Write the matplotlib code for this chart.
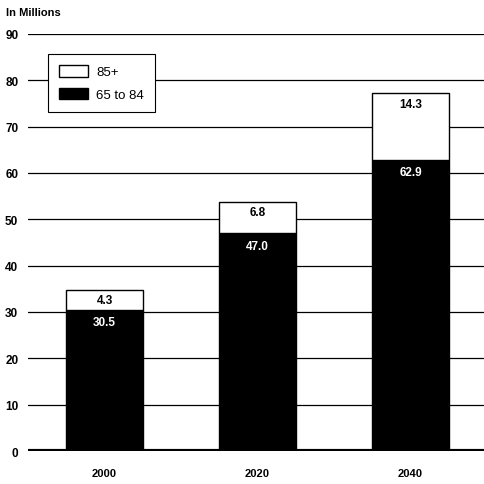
import matplotlib
matplotlib.use("Agg")
import matplotlib.pyplot as plt
from matplotlib.patches import Patch

years = ["2000", "2020", "2040"]
age_65_84 = [30.5, 47.0, 62.9]
age_85_plus = [4.3, 6.8, 14.3]
yticks = [0, 10, 20, 30, 40, 50, 60, 70, 80, 90]

plt.rcParams['font.family'] = ['Liberation Sans', 'DejaVu Sans']

fig = plt.figure(figsize=(4.84, 4.85), dpi=100)
ax = fig.add_axes([0.058, 0.068, 0.942, 0.86])

x = list(range(len(years)))
ax.bar(x, age_65_84, width=0.5, color='black', edgecolor='black', linewidth=1, zorder=3)
ax.bar(x, age_85_plus, width=0.5, bottom=age_65_84, color='white', edgecolor='black',
       linewidth=1, zorder=3)

for i in x:
    top = age_65_84[i] + age_85_plus[i]
    ax.text(i, top - 1.0, f"{age_85_plus[i]:.1f}", ha='center',
            va='top', fontsize=8.5, fontweight='bold', color='black', zorder=4)
    ax.text(i, age_65_84[i] - 1.4, f"{age_65_84[i]:.1f}", ha='center', va='top',
            fontsize=8.5, fontweight='bold', color='white', zorder=4)

ax.set_xlim(-0.5, 2.48)
ax.set_ylim(0, 90)
ax.set_yticks(yticks)
ax.set_xticks(x)
ax.set_xticklabels(years, fontsize=8, fontweight='bold')
ax.set_yticklabels([str(t) for t in yticks], fontsize=8.5, fontweight='bold')
ax.tick_params(axis='both', length=0)
ax.tick_params(axis='y', pad=7)
ax.tick_params(axis='x', pad=12)
ax.yaxis.grid(True, color='black', linewidth=0.9, zorder=0)
ax.axhline(0, color='black', linewidth=3, zorder=5)
for s in ax.spines.values():
    s.set_visible(False)

handles = [Patch(facecolor='white', edgecolor='black', label='85+'),
           Patch(facecolor='black', edgecolor='black', label='65 to 84')]
leg = ax.legend(handles=handles, loc='upper left', bbox_to_anchor=(0.044, 0.952),
                fancybox=False, framealpha=1, edgecolor='black', fontsize=9.5,
                handlelength=2.2, handleheight=0.95, borderpad=0.85, labelspacing=0.7,
                handletextpad=0.6, borderaxespad=0)
leg.get_frame().set_linewidth(0.8)
leg.set_zorder(6)

fig.text(0.012, 0.973, "In Millions", fontsize=8, fontweight='bold', va='center')

fig.savefig("out.png", dpi=100)
